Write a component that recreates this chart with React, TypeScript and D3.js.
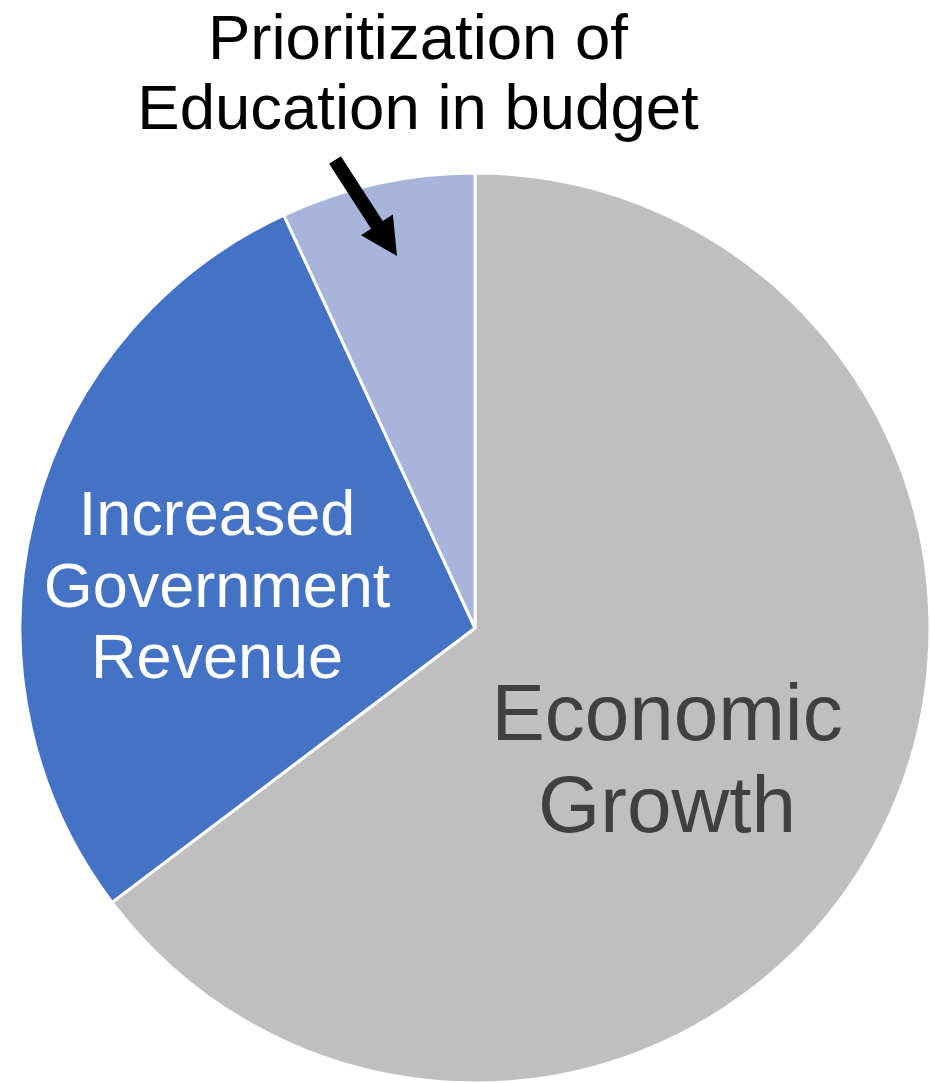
import React, { useRef, useEffect } from 'react';
import * as d3 from 'd3';

const categories = [
  'Economic Growth',
  'Increased Government Revenue',
  'Prioritization of Education in budget',
];
const values = [64.7, 28.4, 6.9];
const colors = ['#BFBFBF', '#4472C4', '#A7B5DA'];

const WIDTH = 930;
const HEIGHT = 1083;

const App: React.FC = () => {
  const svgRef = useRef<SVGSVGElement>(null);

  useEffect(() => {
    if (!svgRef.current) return;
    const svg = d3.select(svgRef.current);
    svg.selectAll('*').remove();

    const cx = 475;
    const cy = 628;
    const radius = 455;
    const font = "'Liberation Sans', Arial, sans-serif";

    const data = categories.map((c, i) => ({ name: c, value: values[i] }));

    const color = d3.scaleOrdinal<string, string>().domain(categories).range(colors);

    const pie = d3
      .pie<{ name: string; value: number }>()
      .value((d) => d.value)
      .sort(null);

    const arc = d3
      .arc<d3.PieArcDatum<{ name: string; value: number }>>()
      .innerRadius(0)
      .outerRadius(radius);

    const g = svg.append('g').attr('transform', `translate(${cx},${cy})`);

    g.selectAll('path')
      .data(pie(data))
      .enter()
      .append('path')
      .attr('d', arc)
      .attr('fill', (d) => color(d.data.name))
      .attr('stroke', '#ffffff')
      .attr('stroke-width', 3)
      .attr('stroke-linejoin', 'round');

    // Slice labels
    const addLines = (
      lines: string[],
      x: number,
      y0: number,
      step: number,
      size: number,
      fill: string
    ) => {
      const t = svg
        .append('text')
        .attr('font-family', font)
        .attr('font-size', size)
        .attr('fill', fill)
        .attr('text-anchor', 'middle');
      lines.forEach((l, i) => {
        t.append('tspan').attr('x', x).attr('y', y0 + i * step).text(l);
      });
    };

    addLines(['Increased', 'Government', 'Revenue'], 217, 535, 71.5, 63, '#ffffff');
    addLines(['Economic', 'Growth'], 667, 740, 92, 80, '#404040');
    addLines(['Prioritization of', 'Education in budget'], 418, 59, 69.5, 63.5, '#000000');

    // Annotation arrow
    const tail: [number, number] = [335, 160];
    const tip: [number, number] = [397, 256];
    const dx = tip[0] - tail[0];
    const dy = tip[1] - tail[1];
    const len = Math.hypot(dx, dy);
    const ux = dx / len;
    const uy = dy / len;
    const px = -uy;
    const py = ux;
    const headLen = 37;
    const headHalf = 19;
    const shaftHalf = 7;
    const bx = tip[0] - ux * headLen;
    const by = tip[1] - uy * headLen;
    const pts: [number, number][] = [
      [tail[0] + px * shaftHalf, tail[1] + py * shaftHalf],
      [bx + px * shaftHalf, by + py * shaftHalf],
      [bx + px * headHalf, by + py * headHalf],
      tip,
      [bx - px * headHalf, by - py * headHalf],
      [bx - px * shaftHalf, by - py * shaftHalf],
      [tail[0] - px * shaftHalf, tail[1] - py * shaftHalf],
    ];
    svg
      .append('path')
      .attr('d', d3.line()(pts) + 'Z')
      .attr('fill', '#000000');
  }, []);

  return (
    <div style={{ position: 'absolute', left: 0, top: 0 }}>
      <svg ref={svgRef} width={WIDTH} height={HEIGHT} style={{ display: 'block' }} />
    </div>
  );
};

export default App;
